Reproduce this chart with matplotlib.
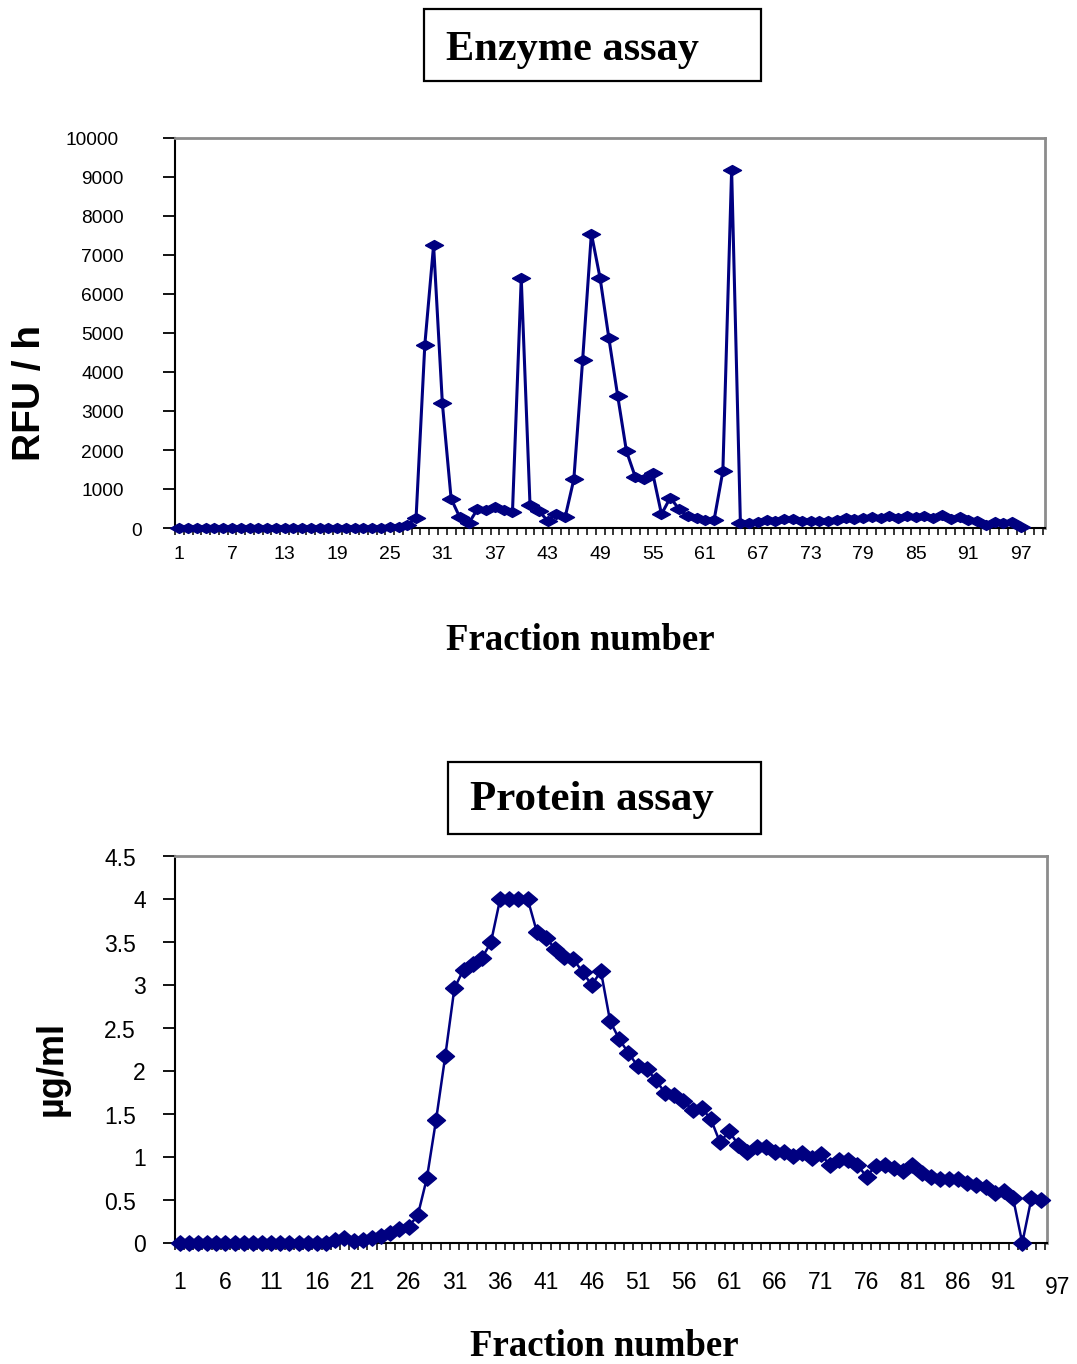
import numpy as np
import matplotlib
matplotlib.use("Agg")
import matplotlib.pyplot as plt
from matplotlib.patches import Rectangle
from matplotlib.transforms import blended_transform_factory, ScaledTranslation

# ---------------- data ----------------
enzyme_fraction = list(range(1, 98))
enzyme_rfu = [0]*24 + [
    15, 35, 77, 250, 4700, 7250, 3200, 750, 270, 120,            # 25-34
    480, 470, 550, 460, 420, 6400, 590, 445, 185, 360,           # 35-44
    270, 1250, 4300, 7550, 6400, 4860, 3390, 1970, 1316, 1260,   # 45-54
    1400, 355, 777, 485, 300, 250, 205, 205, 1460, 9180,         # 55-64
    137, 137, 162, 205, 188, 231, 222, 188, 188, 188,            # 65-74
    188, 205, 265, 222, 265, 291, 265, 308, 265, 308,            # 75-84
    291, 316, 248, 333, 222, 291, 205, 188, 77, 162,             # 85-94
    120, 145, 34]                                                # 95-97

protein_fraction = list(range(1, 96))
protein_ugml = [0]*17 + [
    0.04, 0.06, 0.02,                                            # 18-20
    0.03, 0.06, 0.085, 0.12, 0.16, 0.19, 0.32, 0.755, 1.43, 2.17,  # 21-30
    2.96, 3.18, 3.25, 3.31, 3.50, 4.0, 4.0, 4.0, 4.0, 3.62,      # 31-40
    3.55, 3.42, 3.32, 3.30, 3.15, 3.0, 3.16, 2.58, 2.37, 2.21,   # 41-50
    2.06, 2.02, 1.90, 1.74, 1.72, 1.65, 1.55, 1.57, 1.44, 1.17,  # 51-60
    1.30, 1.14, 1.06, 1.12, 1.12, 1.06, 1.06, 1.01, 1.05, 0.99,  # 61-70
    1.03, 0.91, 0.97, 0.97, 0.91, 0.77, 0.90, 0.91, 0.87, 0.84,  # 71-80
    0.91, 0.81, 0.77, 0.74, 0.74, 0.74, 0.70, 0.68, 0.65, 0.58,  # 81-90
    0.60, 0.52, 0.0, 0.52, 0.50]                                 # 91-95

enzyme_xlabels = list(range(1, 98, 6))
protein_xlabels = list(range(1, 92, 5))
enzyme_yticks = list(range(0, 10001, 1000))
protein_yticks = [0, 0.5, 1, 1.5, 2, 2.5, 3, 3.5, 4, 4.5]
protein_yticklabels = ["0", "0.5", "1", "1.5", "2", "2.5", "3", "3.5", "4", "4.5"]

# ---------------- figure ----------------
W, H = 1077, 1364
fig = plt.figure(figsize=(W/100, H/100), dpi=100)

NAVY = "#000080"
SANS = "Liberation Sans"
SERIF = "Liberation Serif"

def px_axes(l, t, r, b):
    return fig.add_axes([l/W, 1-b/H, (r-l)/W, (b-t)/H])

flat_diamond = [(-1, 0), (0, 0.55), (1, 0), (0, -0.55), (-1, 0)]
round_diamond = [(-1, 0), (0, 0.85), (1, 0), (0, -0.85), (-1, 0)]

def style_axes(ax, xmax, xlabels, fs_tick, xpad):
    for s in ("left", "bottom"):
        ax.spines[s].set_color("black")
        ax.spines[s].set_linewidth(1.5)
    for s in ("top", "right"):
        ax.spines[s].set_color("#8c8c8c")
        ax.spines[s].set_linewidth(2.0)
    ax.set_xticks(np.arange(0.5, xmax + 0.01, 1.0))
    ax.set_xticklabels([])
    ax.tick_params(axis="x", which="major", direction="out", length=5, width=1.1, color="black")
    ax.set_xticks(xlabels, minor=True)
    ax.set_xticklabels([str(v) for v in xlabels], minor=True, fontsize=fs_tick, family=SANS)
    ax.tick_params(axis="x", which="minor", length=0, pad=xpad)
    ax.tick_params(axis="y", which="major", direction="out", length=9, width=1.3)
    ax.set_yticklabels([])
    ax.set_facecolor("white")

def ylabels(ax, values, labels, right_px, fs, dy_px=-3):
    tr = blended_transform_factory(fig.transFigure, ax.transData) + \
        ScaledTranslation(0, dy_px/100, fig.dpi_scale_trans)
    for v, lab, rp in zip(values, labels, right_px):
        ax.text(rp/W, v, lab, transform=tr, ha="right", va="center",
                fontsize=fs, family=SANS, clip_on=False)

# ---------- top: enzyme ----------
ax1 = px_axes(175, 138, 1045, 528)
ax1.plot(enzyme_fraction, enzyme_rfu, color=NAVY, lw=2.2, marker=flat_diamond,
         markersize=13, markerfacecolor=NAVY, markeredgecolor=NAVY, clip_on=False, zorder=3)
ax1.set_xlim(0.75, 99.75)
ax1.set_ylim(0, 10000)
ax1.set_yticks(enzyme_yticks)
style_axes(ax1, 99.75, enzyme_xlabels, 14, 13)
top_right = [142] + [124]*9 + [119]
ylabels(ax1, enzyme_yticks, [str(v) for v in enzyme_yticks], top_right, 13.8)

fig.text(30/W, 1-393/H, "RFU / h", rotation=90, ha="center", va="center",
         fontsize=28, fontweight="bold", family=SANS)
fig.text(580/W, 1-640/H, "Fraction number", ha="center", va="center",
         fontsize=26.5, fontweight="bold", family=SERIF)

fig.patches.append(Rectangle((424/W, 1-81/H), (761-424)/W, (81-9)/H, transform=fig.transFigure,
                             fill=False, edgecolor="black", linewidth=1.6))
fig.text(446/W, 1-50/H, "Enzyme assay", ha="left", va="center",
         fontsize=30.5, fontweight="bold", family=SERIF)

# ---------- bottom: protein ----------
ax2 = px_axes(175, 856, 1047, 1243)
ax2.plot(protein_fraction, protein_ugml, color=NAVY, lw=1.8, marker=round_diamond,
         markersize=13, markerfacecolor=NAVY, markeredgecolor=NAVY, clip_on=False, zorder=3)
ax2.set_xlim(0.7, 95.7)
ax2.set_ylim(0, 4.5)
ax2.set_yticks(protein_yticks)
style_axes(ax2, 95.7, protein_xlabels, 16.5, 20)
bot_right = [146 if "." not in s else 136 for s in protein_yticklabels]
ylabels(ax2, protein_yticks, protein_yticklabels, bot_right, 16.5)

fig.text(1058/W, 1-1287/H, "97", ha="center", va="center", fontsize=16.5, family=SANS)

fig.text(52/W, 1-1068/H, "µg/ml", rotation=90, ha="center", va="center",
         fontsize=26, fontweight="bold", family=SANS)
fig.text(604/W, 1-1346/H, "Fraction number", ha="center", va="center",
         fontsize=26.5, fontweight="bold", family=SERIF)

fig.patches.append(Rectangle((448/W, 1-834/H), (761-448)/W, (834-762)/H, transform=fig.transFigure,
                             fill=False, edgecolor="black", linewidth=1.6))
fig.text(470/W, 1-800/H, "Protein assay", ha="left", va="center",
         fontsize=31, fontweight="bold", family=SERIF)

fig.savefig("out.png", dpi=100, facecolor="white")
